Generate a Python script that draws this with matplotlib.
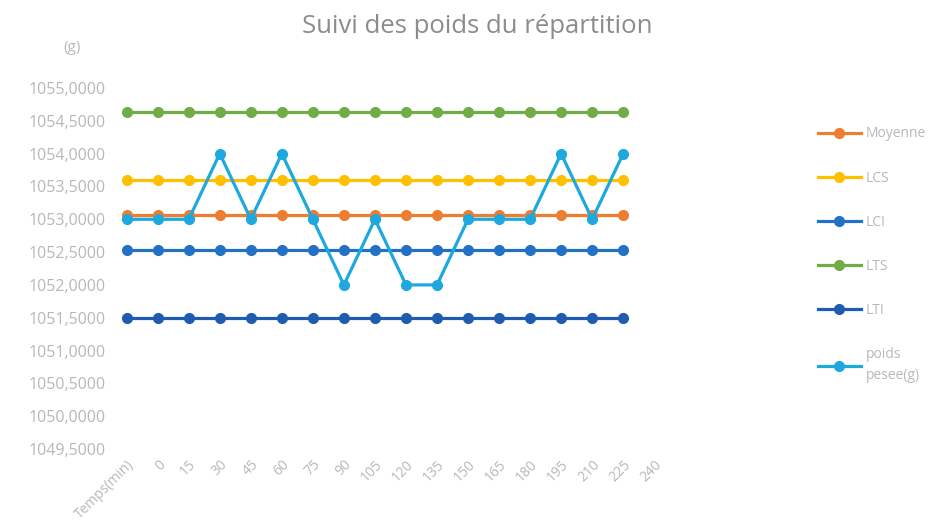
import matplotlib.pyplot as plt
import numpy as np

plt.rcParams['font.family'] = ['Open Sans', 'DejaVu Sans']

categories = ["Temps(min)", "0", "15", "30", "45", "60", "75", "90", "105", "120",
              "135", "150", "165", "180", "195", "210", "225", "240"]

poids = [1053, 1053, 1053, 1054, 1053, 1054, 1053, 1052, 1053,
         1052, 1052, 1053, 1053, 1053, 1054, 1053, 1054]
moyenne = [1053.06] * 17
lcs = [1053.60] * 17
lci = [1052.53] * 17
lts = [1054.64] * 17
lti = [1051.50] * 17

yticks = np.arange(1049.5, 1055.01, 0.5)

series = [
    ("Moyenne", moyenne, "#ED7D31"),
    ("LCS", lcs, "#FFC000"),
    ("LCI", lci, "#2371C4"),
    ("LTS", lts, "#70AD47"),
    ("LTI", lti, "#1F5CB0"),
    ("poids\npesee(g)", poids, "#1EA9DE"),
]

text_col = "#B8B8B8"

fig = plt.figure(figsize=(9.42, 5.27), dpi=100)
ax = fig.add_axes([0.118, 0.148, 0.593, 0.685])

x = np.arange(len(poids))
for name, vals, col in series:
    ax.plot(x, vals, color=col, lw=2.3, marker="o", ms=7, label=name)

ax.set_xlim(-0.5, len(categories) - 0.5)
ax.set_ylim(1049.5, 1055)
ax.set_yticks(yticks)
ax.set_yticklabels([f"{v:.4f}".replace(".", ",") for v in yticks])
ax.set_xticks(np.arange(len(categories)))
ax.set_xticklabels(categories, rotation=45, ha="right", rotation_mode="anchor")
ax.tick_params(length=0, colors=text_col, labelsize=10)
ax.tick_params(axis="y", labelsize=11.5, pad=4)
ax.tick_params(axis="x", pad=6)
for s in ax.spines.values():
    s.set_visible(False)

fig.text(0.507, 0.950, "Suivi des poids du répartition", ha="center", va="center",
         fontsize=18.5, color="#8C8C8C")
fig.text(0.076, 0.909, "(g)", ha="center", va="center", fontsize=11, color=text_col)

leg = ax.legend(loc="upper left", bbox_to_anchor=(0.868, 0.760),
                bbox_transform=fig.transFigure, frameon=False, borderaxespad=0,
                borderpad=0, handlelength=3.1, handletextpad=0.35,
                labelspacing=2.1, fontsize=10)
for t in leg.get_texts():
    t.set_color(text_col)
    t.set_linespacing(1.5)

fig.savefig("out.png", dpi=100)
